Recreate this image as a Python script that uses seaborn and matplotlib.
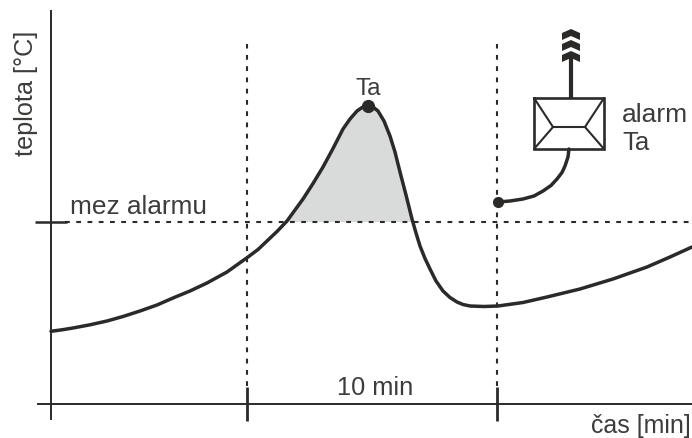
import matplotlib
matplotlib.use("Agg")
import matplotlib.pyplot as plt
import numpy as np
import pandas as pd
import seaborn as sns

# Prubeh teploty
cas = [0, 0.44, 0.88, 1.56, 2.24, 2.88, 3.56, 4.24, 4.88, 5.56, 6.24, 7.04,
       7.88, 8.28, 8.64, 9.04, 9.44, 9.76, 10.08, 10.48, 10.88, 11.28, 11.68,
       11.96, 12.24, 12.44, 12.68, 12.88, 13.08, 13.32, 13.56, 13.76, 13.96,
       14.2, 14.44, 14.6, 14.76, 14.96, 15.16, 15.4, 15.68, 15.96, 16.24,
       16.48, 16.76, 17.32, 17.88, 18.88, 19.84, 21.16, 22.48, 23.84, 24.76,
       25.64]
teplota = [14.54, 14.84, 15.2, 15.84, 16.6, 17.5, 18.6, 19.8, 21.2, 22.6, 24.2,
           26.4, 29.4, 30.9, 32.6, 34.5, 36.6, 38.8, 41.0, 44.1, 47.4, 51.1,
           55.0, 57.0, 58.6, 59.3, 59.6, 59.4, 58.6, 56.6, 53.6, 50.4, 46.4,
           41.8, 37.0, 34.2, 31.6, 29.1, 27.0, 24.6, 22.6, 21.3, 20.4, 19.9,
           19.6, 19.5, 19.6, 20.3, 21.4, 23.0, 25.0, 27.4, 29.4, 31.4]
mez_alarmu = 36.5
tick_casy = [7.84, 17.84]
vrchol = (12.68, 59.6)

# Privod k alarmu
privod_cas = [17.88, 18.36, 18.88, 19.32, 19.68, 20.0, 20.24, 20.44, 20.56, 20.68, 20.72]
privod_tepl = [40.4, 40.6, 41.0, 41.6, 42.6, 43.7, 45.0, 46.3, 47.6, 49.4, 51.0]

TMAVA = "#2b2a29"
TEXT = "#3c3c3b"


def tx(p):
    return (np.asarray(p, dtype=float) - 51) / 25


def ty(p):
    return (405 - np.asarray(p, dtype=float)) / 5


sns.set_theme(style="white")
plt.rcParams["font.family"] = ["Liberation Sans", "DejaVu Sans"]

fig = plt.figure(figsize=(6.92, 4.39), dpi=100)
ax = fig.add_axes([0, 0, 1, 1])
ax.set_xlim(tx(0), tx(692))
ax.set_ylim(ty(439), ty(0))
ax.patch.set_alpha(0)

df = pd.DataFrame({"cas": cas, "teplota": teplota})

# Vyplneni nad mezi alarmu
ax.fill_between(df["cas"], df["teplota"], mez_alarmu,
                where=df["teplota"] > mez_alarmu, interpolate=True,
                color="#d9dada", lw=0, zorder=1)

# Teckovane cary
for c in tick_casy:
    ax.plot([c, c], [ty(387), ty(45)], color=TMAVA, lw=1.5,
            dashes=(2.3, 3.1), zorder=2)
ax.plot([tx(65), tx(692)], [mez_alarmu, mez_alarmu], color=TMAVA, lw=1.5,
        dashes=(2.3, 3.1), zorder=2)

sns.lineplot(data=df, x="cas", y="teplota", sort=False, estimator=None,
             color=TMAVA, lw=2.5, ax=ax, zorder=3)
ax.plot(*vrchol, "o", color=TMAVA, ms=9.5, mew=0, zorder=4)

# Osy
for s in ["top", "right"]:
    ax.spines[s].set_visible(False)
ax.spines["left"].set_position(("data", 0))
ax.spines["bottom"].set_position(("data", 0))
ax.spines["left"].set_bounds(ty(420), ty(12))
ax.spines["bottom"].set_bounds(tx(38), tx(692))
for s in ["left", "bottom"]:
    ax.spines[s].set_color(TMAVA)
    ax.spines[s].set_linewidth(1.4)
ax.set_xticks(tick_casy)
ax.set_yticks([mez_alarmu])
ax.set_xticklabels([])
ax.set_yticklabels([])
ax.tick_params(axis="x", direction="inout", length=24.5, width=2.0, color=TMAVA,
               bottom=True)
ax.tick_params(axis="y", direction="inout", length=23, width=1.8, color=TMAVA,
               left=True, pad=0)
ax.set_xlabel("")
ax.set_ylabel("")

# Popisky
ax.text(tx(70), ty(214), "mez alarmu", fontsize=18.9, color=TEXT, ha="left", va="baseline")
ax.text(tx(368), ty(95), "Ta", fontsize=17.5, color=TEXT, ha="center", va="baseline")
ax.text(tx(375), ty(395), "10 min", fontsize=18.3, color=TEXT, ha="center", va="baseline")
ax.text(tx(691), ty(433), "čas [min]", fontsize=18, color=TEXT, ha="right", va="baseline")
ax.text(tx(622), ty(122), "alarm", fontsize=19, color=TEXT, ha="left", va="baseline")
ax.text(tx(622), ty(150), "Ta", fontsize=18.5, color=TEXT, ha="left", va="baseline")
ax.text(tx(33), ty(93.5), "teplota [°C]", fontsize=18.2, color=TEXT, rotation=90,
        ha="center", va="baseline", rotation_mode="anchor")

# Obalka
ax.plot(tx([534, 604, 604, 534, 534]), ty([99, 99, 150, 150, 99]), color=TMAVA,
        lw=1.9, solid_joinstyle="miter", zorder=5)
ax.plot(tx([534, 553, 585, 604]), ty([99, 128, 128, 99]), color=TMAVA, lw=1.5, zorder=5)
ax.plot(tx([534, 553]), ty([150, 128]), color=TMAVA, lw=1.5, zorder=5)
ax.plot(tx([604, 585]), ty([150, 128]), color=TMAVA, lw=1.5, zorder=5)

# Anteny a privod
ax.plot(tx([571, 571]), ty([99, 58]), color=TMAVA, lw=3.0, solid_capstyle="butt", zorder=5)
for top in [30, 41, 52]:
    ax.fill(tx([562, 571, 580, 580, 571, 562]),
            ty([top + 4, top, top + 4, top + 11, top + 7, top + 11]),
            color=TMAVA, lw=0, zorder=5)
ax.plot(privod_cas, privod_tepl, color=TMAVA, lw=2.5, zorder=5)
ax.plot(privod_cas[0], privod_tepl[0], "o", color=TMAVA, ms=8, mew=0, zorder=6)

fig.savefig("out.png", dpi=100)
